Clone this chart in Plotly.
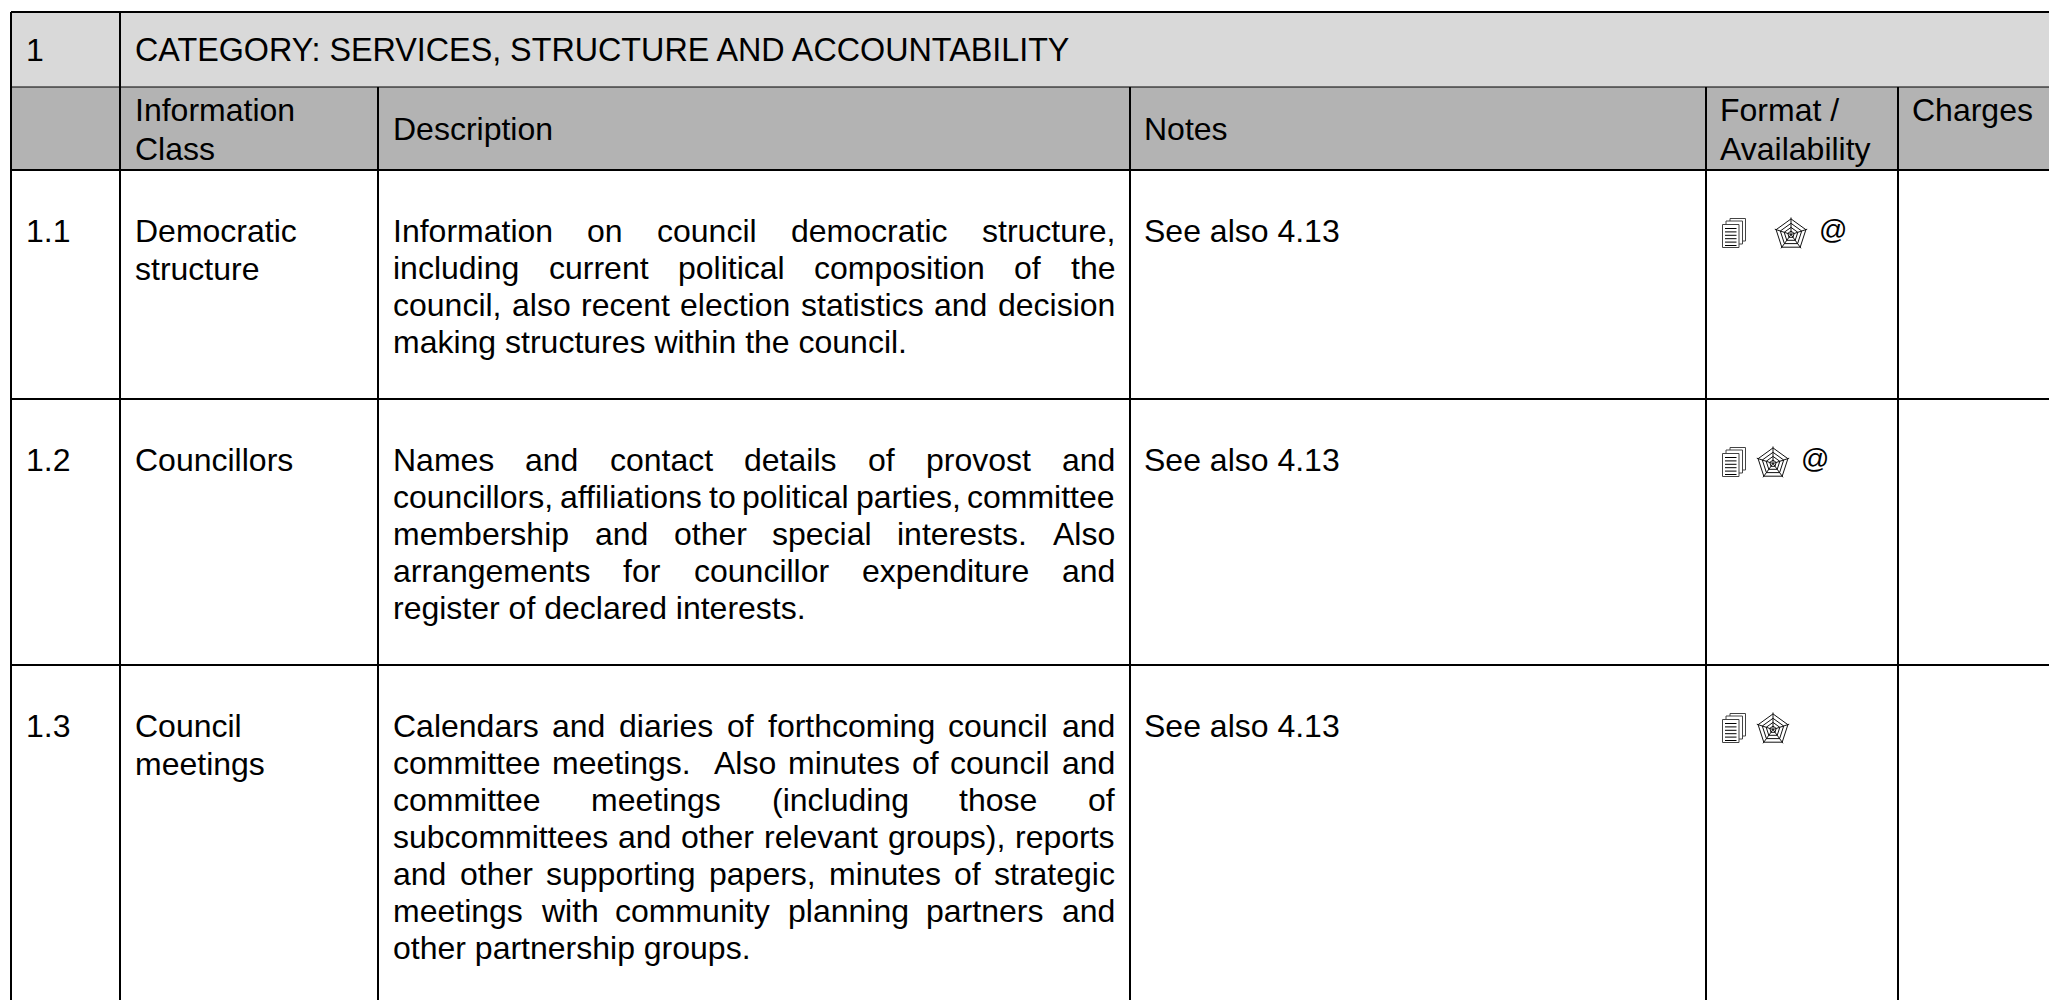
import math
import plotly.graph_objects as go

# ---------- content ----------
category_no = "1"
category_title = "CATEGORY: SERVICES, STRUCTURE AND ACCOUNTABILITY"
header_lines = [["Information", "Class"], ["Description"], ["Notes"], ["Format /", "Availability"], ["Charges"]]
row_ids = ["1.1", "1.2", "1.3"]
row_classes = [["Democratic", "structure"], ["Councillors"], ["Council", "meetings"]]
row_notes = ["See also 4.13", "See also 4.13", "See also 4.13"]
row_desc = [
    ["Information on council democratic structure,",
     "including current political composition of the",
     "council, also recent election statistics and decision",
     "making structures within the council."],
    ["Names and contact details of provost and",
     "councillors, affiliations to political parties, committee",
     "membership and other special interests. Also",
     "arrangements for councillor expenditure and",
     "register of declared interests."],
    ["Calendars and diaries of forthcoming council and",
     "committee meetings.  Also minutes of council and",
     "committee meetings (including those of",
     "subcommittees and other relevant groups), reports",
     "and other supporting papers, minutes of strategic",
     "meetings with community planning partners and",
     "other partnership groups."],
]
row_formats = [["doc", "web", "at"], ["doc", "web", "at"], ["doc", "web"]]

# ---------- layout constants (pixels of the page) ----------
W, H = 2049, 1000
FS = 32
LH = 37
COL = [11, 120, 378, 1130, 1706, 1898]
TOP, HEAD1, HEAD2 = 12, 87, 170
ROW_LINES = [399, 665]
ROW_Y = [230.5, 460, 726]
CLASS_LH = 38
DESC_L, DESC_R = 393, 1115
FONT = "Liberation Sans, Arial, sans-serif"
INK = "#000000"
ICON_X = [{"doc": 1722, "web": 1775, "at": 1833}, {"doc": 1722, "web": 1757, "at": 1815}, {"doc": 1722, "web": 1757}]
ICON_Y = [218, 447, 713]

# Arial / Liberation Sans advance widths (per 1000 em) used to justify lines
AW = {' ':278, ',':278, '.':278, '(':333, ')':333, '/':278}
for chars, w in [("abdeghnopqu", 556), ("c", 500), ("f", 278), ("i", 222), ("j", 222), ("k", 500), ("l", 222),
                 ("m", 833), ("r", 333), ("s", 500), ("t", 278), ("v", 500), ("w", 722), ("x", 500), ("y", 500), ("z", 500),
                 ("A", 667), ("C", 722), ("I", 278), ("N", 722)]:
    for ch in chars:
        AW[ch] = w

def width(s):
    return sum(AW.get(c, 556) for c in s) * FS / 1000

annotations, shapes = [], []

def text(x, y, s, size=FS, color=INK):
    annotations.append(dict(x=x, y=y, text=s, xref="x", yref="y", xanchor="left", yanchor="middle",
                            showarrow=False, borderpad=0, borderwidth=0,
                            font=dict(family=FONT, size=size, color=color)))

def rect(x0, y0, x1, y1, fill):
    shapes.append(dict(type="rect", x0=x0, y0=y0, x1=x1, y1=y1, fillcolor=fill, line=dict(width=0), layer="below"))

def line(x0, y0, x1, y1, w=2):
    shapes.append(dict(type="line", x0=x0, y0=y0, x1=x1, y1=y1, line=dict(color="#000000", width=w)))

def path(d, w=1, color="#222222", fill="rgba(0,0,0,0)"):
    shapes.append(dict(type="path", path=d, line=dict(color=color, width=w), fillcolor=fill))

def doc_icon(x, y):
    path(f"M{x+8},{y+3} V{y+0.5} H{x+23.5} V{y+23} H{x+21}", 1, "#444444", "#ffffff")
    path(f"M{x+4},{y+6} V{y+3} H{x+20.5} V{y+26} H{x+17}", 1, "#444444", "#ffffff")
    path(f"M{x+0.5},{y+6.5} H{x+17} V{y+29.5} H{x+0.5} Z", 1, "#444444", "#ffffff")
    for k in range(6):
        yy = y + 10.5 + k * 3.4
        path(f"M{x+3},{yy} H{x+14.5}", 1, "#000000")

def web_icon(x, y):
    cx, cy, R = x + 16, y + 16.5, 17
    pts = [(math.sin(2 * math.pi * i / 5), -math.cos(2 * math.pi * i / 5)) for i in range(5)]
    for f in (0.92, 0.66, 0.42, 0.2):
        d = "M" + " L".join(f"{cx+R*f*a:.1f},{cy+R*f*b:.1f}" for a, b in pts) + " Z"
        path(d, 1, "#111111")
    for a, b in pts:
        path(f"M{cx:.1f},{cy:.1f} L{cx+R*a:.1f},{cy+R*b:.1f}", 1, "#111111")

# ---------- fills ----------
rect(COL[0], TOP, W, HEAD1, "#D9D9D9")
rect(COL[0], HEAD1, W, HEAD2, "#B3B3B3")

# ---------- rules ----------
line(COL[0], TOP, W, TOP, 2)
line(COL[0], HEAD1, W, HEAD1, 1)
line(COL[0], HEAD2, W, HEAD2, 2)
for y in ROW_LINES:
    line(COL[0], y, W, y, 2)
line(COL[0], TOP, COL[0], H, 2)
line(COL[1], TOP, COL[1], H, 2)
for x in COL[2:]:
    line(x, HEAD1, x, H, 2)

# ---------- text ----------
text(26, 50, category_no)
text(135, 50, category_title, size=32.3)
head_x = [135, 393, 1144, 1720, 1912]
for hx, lines_ in zip(head_x, header_lines):
    if len(lines_) == 2:
        text(hx, 109.5, lines_[0]); text(hx, 149, lines_[1])
    elif lines_[0] == "Charges":
        text(hx, 109.5, lines_[0])
    else:
        text(hx, 129, lines_[0])

for i, y0 in enumerate(ROW_Y):
    text(26, y0, row_ids[i])
    for j, s in enumerate(row_classes[i]):
        text(135, y0 + j * CLASS_LH, s)
    text(1144, y0, row_notes[i])
    desc = row_desc[i]
    for j, s in enumerate(desc):
        y = y0 + j * LH
        if j == len(desc) - 1:
            text(DESC_L, y, s)
            continue
        words = s.split(" ")
        gap = (DESC_R - DESC_L - sum(width(w) for w in words)) / (len(words) - 1)
        x = DESC_L
        for w in words:
            if w:
                text(x, y, w)
            x += width(w) + gap
    for kind in row_formats[i]:
        x = ICON_X[i][kind]
        if kind == "doc":
            doc_icon(x, ICON_Y[i])
        elif kind == "web":
            web_icon(x, ICON_Y[i])
        else:
            annotations.append(dict(x=x, y=ICON_Y[i] + 11, text="@", xref="x", yref="y", xanchor="center",
                                    yanchor="middle", showarrow=False, borderpad=0,
                                    font=dict(family=FONT, size=28, color=INK)))

fig = go.Figure()
fig.update_layout(
    width=W, height=H, margin=dict(l=0, r=0, t=0, b=0), showlegend=False,
    paper_bgcolor="#ffffff", plot_bgcolor="#ffffff",
    xaxis=dict(range=[0, W], visible=False, fixedrange=True),
    yaxis=dict(range=[H, 0], visible=False, fixedrange=True),
    shapes=shapes, annotations=annotations,
)
fig.write_html("out.html", config={"displayModeBar": False},
               post_script="document.body.style.margin='0';document.body.style.overflow='hidden';")
